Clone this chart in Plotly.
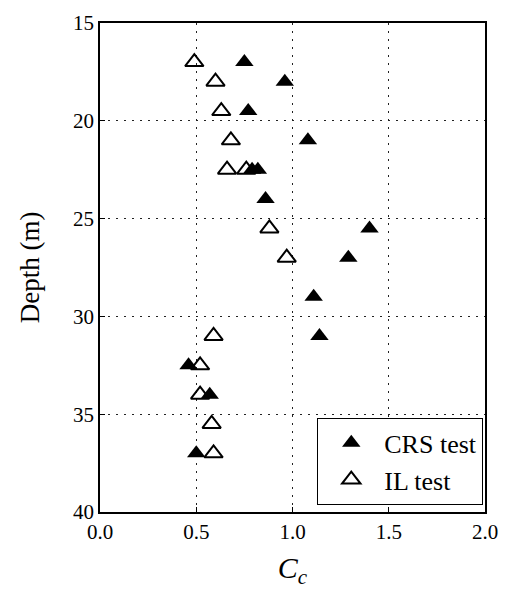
import plotly.graph_objects as go

# CRS test (filled triangles)
crs_cc = [0.75, 0.96, 0.77, 1.08, 0.79, 0.82, 0.86, 1.40, 1.29, 1.11, 1.14, 0.46, 0.57, 0.50]
crs_depth = [17, 18, 19.5, 21, 22.5, 22.5, 24, 25.5, 27, 29, 31, 32.5, 34, 37]

# IL test (open triangles)
il_cc = [0.49, 0.60, 0.63, 0.68, 0.66, 0.76, 0.88, 0.97, 0.59, 0.52, 0.52, 0.58, 0.59]
il_depth = [17, 18, 19.5, 21, 22.5, 22.5, 25.5, 27, 31, 32.5, 34, 35.5, 37]

x_ticks = [0.0, 0.5, 1.0, 1.5, 2.0]
y_ticks = [15, 20, 25, 30, 35, 40]

FONT = "Liberation Serif"

fig = go.Figure()
fig.add_trace(go.Scatter(
    x=il_cc, y=il_depth, mode="markers", name="IL test",
    marker=dict(symbol="triangle-up-open", size=16, color="black",
                line=dict(width=2, color="black")),
))
fig.add_trace(go.Scatter(
    x=crs_cc, y=crs_depth, mode="markers", name="CRS test",
    marker=dict(symbol="triangle-up", size=16, color="black",
                line=dict(width=0)),
))

axis_common = dict(
    showline=True, linecolor="black", linewidth=1.5, mirror=True,
    ticks="inside", ticklen=5, tickwidth=1, tickcolor="black",
    showgrid=True, gridcolor="#222", gridwidth=1.2, griddash="2px,6px",
    zeroline=False,
    tickfont=dict(family=FONT, size=21, color="black"),
)

fig.update_layout(
    width=509, height=601,
    margin=dict(l=100, r=23, t=11, b=89),
    paper_bgcolor="white", plot_bgcolor="white",
    font=dict(family=FONT, color="black"),
    showlegend=True,
    legend=dict(
        x=0.995, y=0.014, xanchor="right", yanchor="bottom",
        bgcolor="white", bordercolor="black", borderwidth=1.2,
        font=dict(family=FONT, size=26, color="black"),
        traceorder="reversed", itemwidth=56,
    ),
    xaxis=dict(
        range=[0, 2], tickvals=x_ticks, tickformat=".1f",
        title=dict(text="<i>C</i><sub><i>c</i></sub>",
                   font=dict(family=FONT, size=30, color="black"), standoff=14),
        **axis_common,
    ),
    yaxis=dict(
        range=[40, 15], tickvals=y_ticks,
        title=dict(text="Depth (m)",
                   font=dict(family=FONT, size=27, color="black"), standoff=26),
        **axis_common,
    ),
)

fig.write_html("out.html")
